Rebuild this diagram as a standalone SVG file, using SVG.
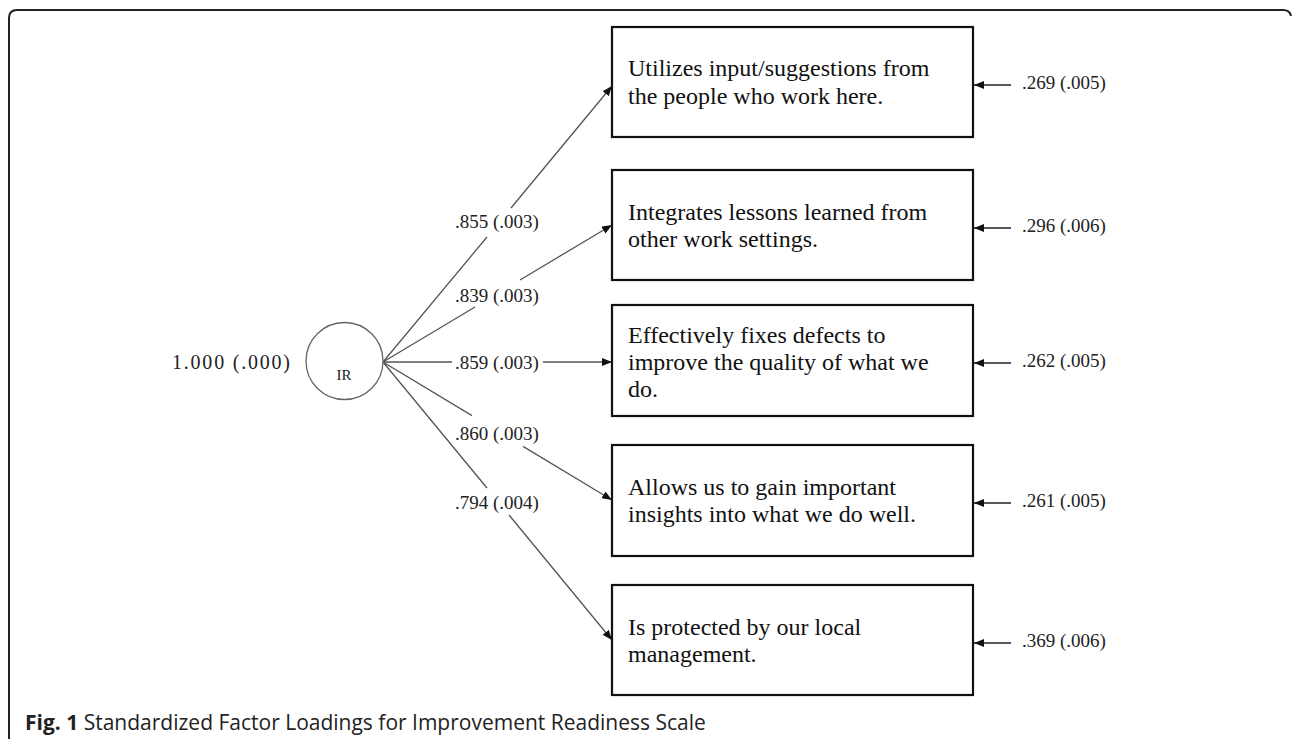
<svg xmlns="http://www.w3.org/2000/svg" width="1292" height="739" viewBox="0 0 1292 739">
<defs>
<marker id="ah" markerUnits="userSpaceOnUse" markerWidth="11" markerHeight="8" refX="10" refY="4" orient="auto">
<path d="M0,0 L10,4 L0,8 z" fill="#111"/>
</marker>
<style>
.box{fill:#fff;stroke:#111;stroke-width:2.2}
.bt{font-family:"Liberation Serif","Times New Roman",serif;font-size:24px;fill:#111}
.lb{font-family:"Liberation Serif","Times New Roman",serif;font-size:19px;fill:#222}
.cn{fill:none;stroke:#555;stroke-width:1.3;marker-end:url(#ah)}
.er{fill:none;stroke:#222;stroke-width:1.3;marker-end:url(#ah)}
.cap{font-family:"Open Sans","Liberation Sans",sans-serif;font-size:21px;fill:#222}
</style>
</defs>
<rect width="1292" height="739" fill="#fff"/>
<path d="M9,739 V18 Q9,10 17,10 H1283 Q1290,10 1291,16" fill="none" stroke="#222" stroke-width="2"/>

<g id="connectors">
<path class="cn" d="M383,362 L487,237 M511,208 L612,86"/>
<path class="cn" d="M383,362 L475,307 M520,280 L612,225"/>
<path class="cn" d="M383,362 L452,362 M543,362 L612,362"/>
<path class="cn" d="M383,362 L472,415.6 M523,446.4 L612,500"/>
<path class="cn" d="M383,362 L487,488 M509,515 L612,640"/>
<path class="er" d="M1011,85 L974,85"/>
<path class="er" d="M1011,228 L974,228"/>
<path class="er" d="M1011,363 L974,363"/>
<path class="er" d="M1011,503 L974,503"/>
<path class="er" d="M1011,643 L974,643"/>
<text class="lb" x="455" y="228">.855 (.003)</text>
<text class="lb" x="455" y="302">.839 (.003)</text>
<text class="lb" x="455" y="369">.859 (.003)</text>
<text class="lb" x="455" y="440">.860 (.003)</text>
<text class="lb" x="455" y="509">.794 (.004)</text>
</g>

<g id="IR">
<circle cx="344.5" cy="361" r="38.5" fill="#fff" stroke="#666" stroke-width="1.3"/>
<text x="344" y="380" text-anchor="middle" style="font-family:'Liberation Serif','Times New Roman',serif;font-size:15px;fill:#222">IR</text>
<text class="lb" x="172" y="369" style="font-size:20px" textLength="118" lengthAdjust="spacing">1.000 (.000)</text>
</g>

<g id="item1">
<rect class="box" x="612" y="27" width="361" height="110"/>
<text class="bt" x="628" y="76">Utilizes input/suggestions from</text>
<text class="bt" x="628" y="104">the people who work here.</text>
<text class="lb" x="1022" y="89">.269 (.005)</text>
</g>

<g id="item2">
<rect class="box" x="612" y="170" width="361" height="110"/>
<text class="bt" x="628" y="220">Integrates lessons learned from</text>
<text class="bt" x="628" y="247">other work settings.</text>
<text class="lb" x="1022" y="232">.296 (.006)</text>
</g>

<g id="item3">
<rect class="box" x="612" y="305" width="361" height="111"/>
<text class="bt" x="628" y="343">Effectively fixes defects to</text>
<text class="bt" x="628" y="370">improve the quality of what we</text>
<text class="bt" x="628" y="397">do.</text>
<text class="lb" x="1022" y="367">.262 (.005)</text>
</g>

<g id="item4">
<rect class="box" x="612" y="445" width="361" height="111"/>
<text class="bt" x="628" y="495">Allows us to gain important</text>
<text class="bt" x="628" y="522">insights into what we do well.</text>
<text class="lb" x="1022" y="507">.261 (.005)</text>
</g>

<g id="item5">
<rect class="box" x="612" y="585" width="361" height="110"/>
<text class="bt" x="628" y="635">Is protected by our local</text>
<text class="bt" x="628" y="662">management.</text>
<text class="lb" x="1022" y="647">.369 (.006)</text>
</g>

<g id="caption">
<text class="cap" x="25" y="730"><tspan font-weight="bold">Fig. 1</tspan> Standardized Factor Loadings for Improvement Readiness Scale</text>
</g>
</svg>
